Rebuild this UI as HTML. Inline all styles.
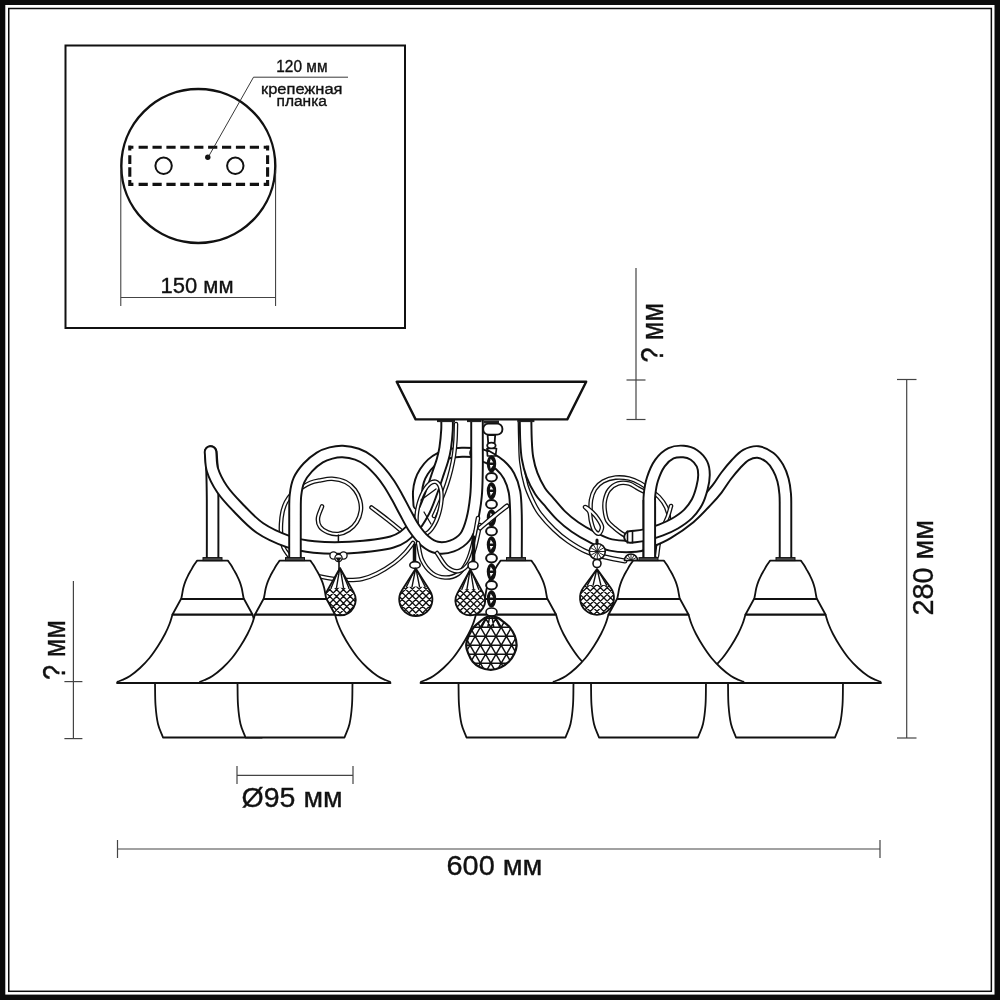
<!DOCTYPE html>
<html><head><meta charset="utf-8">
<style>
html,body{margin:0;padding:0;background:#fff;}
body{width:1000px;height:1000px;overflow:hidden;}
svg{display:block;filter:grayscale(1);}
text{font-family:"Liberation Sans",sans-serif;fill:#111;stroke:#111;stroke-width:0.35px;}
</style></head>
<body>
<svg width="1000" height="1000" viewBox="0 0 1000 1000">
<rect x="0" y="0" width="1000" height="1000" fill="#0a0a0a"/>
<rect x="5.3" y="5" width="989.2" height="989.6" fill="#fff"/>
<rect x="8.75" y="8.5" width="982.6" height="982.8" fill="none" stroke="#0a0a0a" stroke-width="1.5"/>
<rect x="65.5" y="45.5" width="339.5" height="282.5" fill="none" stroke="#111" stroke-width="2"/>
<circle cx="198.3" cy="166" r="77" fill="none" stroke="#111" stroke-width="2.4"/>
<path d="M128.2,147.2 H133.4 M138.6,147.2 H147.8 M152.5,147.2 H161.7 M166.4,147.2 H175.6 M180.3,147.2 H189.5 M194.2,147.2 H203.4 M208.1,147.2 H217.3 M222.0,147.2 H231.2 M235.9,147.2 H245.1 M249.8,147.2 H259.0 M263.7,147.2 H269.2 M128.2,184.4 H133.4 M138.6,184.4 H147.8 M152.5,184.4 H161.7 M166.4,184.4 H175.6 M180.3,184.4 H189.5 M194.2,184.4 H203.4 M208.1,184.4 H217.3 M222.0,184.4 H231.2 M235.9,184.4 H245.1 M249.8,184.4 H259.0 M263.7,184.4 H269.2 M129.8,145.6 V150.4 M129.8,155.2 V164.0 M129.8,167.2 V176.8 M129.8,180.0 V186.0 M267.6,145.6 V150.4 M267.6,155.2 V164.0 M267.6,167.2 V176.8 M267.6,180.0 V186.0" fill="none" stroke="#111" stroke-width="3.1"/>
<circle cx="163.6" cy="165.8" r="8.2" fill="none" stroke="#111" stroke-width="2"/>
<circle cx="235.3" cy="165.8" r="8.2" fill="none" stroke="#111" stroke-width="2"/>
<circle cx="207.8" cy="157.3" r="2.7" fill="#111"/>
<polyline points="208,157.5 253.5,77.2 348,77.2" fill="none" stroke="#222" stroke-width="0.9"/>
<text x="276.3" y="71.8" font-size="15.6" textLength="51.2" lengthAdjust="spacingAndGlyphs">120 мм</text>
<text x="261" y="94.2" font-size="15.4" textLength="81.5" lengthAdjust="spacingAndGlyphs">крепежная</text>
<text x="276.5" y="106.2" font-size="15.4" textLength="50.5" lengthAdjust="spacingAndGlyphs">планка</text>
<line x1="120.8" y1="170" x2="120.8" y2="306" stroke="#333" stroke-width="1"/>
<line x1="275.6" y1="170" x2="275.6" y2="306" stroke="#333" stroke-width="1"/>
<line x1="120.8" y1="297.5" x2="275.6" y2="297.5" stroke="#444" stroke-width="1.2"/>
<text x="160.6" y="292.8" font-size="22.3" textLength="73" lengthAdjust="spacingAndGlyphs">150 мм</text>
<g stroke="#444" stroke-width="1.2" fill="none">
<line x1="636" y1="268" x2="636" y2="419.5"/>
<line x1="626.5" y1="380" x2="645.5" y2="380"/>
<line x1="626.5" y1="419.5" x2="645.5" y2="419.5"/>
<line x1="73.4" y1="581" x2="73.4" y2="738.6"/>
<line x1="64.4" y1="681.6" x2="82.4" y2="681.6"/>
<line x1="64.4" y1="738.6" x2="82.4" y2="738.6"/>
<line x1="906.7" y1="379.5" x2="906.7" y2="738"/>
<line x1="897" y1="379.5" x2="916.5" y2="379.5"/>
<line x1="897" y1="738" x2="916.5" y2="738"/>
<line x1="237" y1="775.3" x2="353" y2="775.3"/>
<line x1="237" y1="766" x2="237" y2="784"/>
<line x1="353" y1="766" x2="353" y2="784"/>
<line x1="117.5" y1="849" x2="880" y2="849"/>
<line x1="117.5" y1="840" x2="117.5" y2="858"/>
<line x1="880" y1="840" x2="880" y2="858"/>
</g>
<text x="241.6" y="806.8" font-size="27.5" textLength="101" lengthAdjust="spacingAndGlyphs">Ø95 мм</text>
<text x="446.5" y="874.8" font-size="27.5" textLength="96" lengthAdjust="spacingAndGlyphs">600 мм</text>
<text transform="translate(933.2,615.6) rotate(-90)" font-size="29.3" textLength="95.6" lengthAdjust="spacingAndGlyphs">280 мм</text>
<text transform="translate(662.6,362.6) rotate(-90)" font-size="31" textLength="59.5" lengthAdjust="spacingAndGlyphs">? мм</text>
<text transform="translate(64.8,680) rotate(-90)" font-size="31" textLength="60" lengthAdjust="spacingAndGlyphs">? мм</text>
<path d="M322,506.4 C320.67,510.27 318.33,514.6 318,518 C317.67,521.4 318.33,524.4 320,526.8 C321.67,529.2 324.93,531.2 328,532.4 C331.07,533.6 334.93,534.4 338.4,534 C341.87,533.6 345.73,532 348.8,530 C351.87,528 354.8,525.2 356.8,522 C358.8,518.8 360.27,514.4 360.8,510.8 C361.33,507.2 360.97,503.87 360,500.4 C359.03,496.93 357.4,493.07 355,490 C352.6,486.93 349.43,483.87 345.6,482 C341.77,480.13 336.27,479.07 332,478.8 C327.73,478.53 323.6,479.73 320,480.4 C316.4,481.07 313.57,481.53 310.4,482.8 C307.23,484.07 304.07,486.13 301,488 C297.93,489.87 294.5,491.67 292,494 C289.5,496.33 287.58,499 286,502 C284.42,505 283.33,508.33 282.5,512 C281.67,515.67 281.2,519.83 281,524 C280.8,528.17 280.88,533.08 281.3,537 C281.72,540.92 282.22,544.33 283.5,547.5 C284.78,550.67 287.17,553.17 289,556" fill="none" stroke="#111" stroke-width="4.6" stroke-linecap="round" stroke-linejoin="round"/><path d="M322,506.4 C320.67,510.27 318.33,514.6 318,518 C317.67,521.4 318.33,524.4 320,526.8 C321.67,529.2 324.93,531.2 328,532.4 C331.07,533.6 334.93,534.4 338.4,534 C341.87,533.6 345.73,532 348.8,530 C351.87,528 354.8,525.2 356.8,522 C358.8,518.8 360.27,514.4 360.8,510.8 C361.33,507.2 360.97,503.87 360,500.4 C359.03,496.93 357.4,493.07 355,490 C352.6,486.93 349.43,483.87 345.6,482 C341.77,480.13 336.27,479.07 332,478.8 C327.73,478.53 323.6,479.73 320,480.4 C316.4,481.07 313.57,481.53 310.4,482.8 C307.23,484.07 304.07,486.13 301,488 C297.93,489.87 294.5,491.67 292,494 C289.5,496.33 287.58,499 286,502 C284.42,505 283.33,508.33 282.5,512 C281.67,515.67 281.2,519.83 281,524 C280.8,528.17 280.88,533.08 281.3,537 C281.72,540.92 282.22,544.33 283.5,547.5 C284.78,550.67 287.17,553.17 289,556" fill="none" stroke="#fff" stroke-width="2" stroke-linecap="round" stroke-linejoin="round"/>
<path d="M338.4,535 L338.4,542" fill="none" stroke="#111" stroke-width="1.5" stroke-linecap="round" stroke-linejoin="round"/>
<path d="M296,568 C299.33,569.67 302,571.58 306,573 C310,574.42 315.33,575.5 320,576.5 C324.67,577.5 329.33,578.42 334,579 C338.67,579.58 343.33,580 348,580 C352.67,580 357.17,580.08 362,579 C366.83,577.92 371.67,576.17 377,573.5 C382.33,570.83 389.33,566.42 394,563 C398.67,559.58 401.83,556.33 405,553 C408.17,549.67 410.33,546.33 413,543" fill="none" stroke="#111" stroke-width="4.6" stroke-linecap="round" stroke-linejoin="round"/><path d="M296,568 C299.33,569.67 302,571.58 306,573 C310,574.42 315.33,575.5 320,576.5 C324.67,577.5 329.33,578.42 334,579 C338.67,579.58 343.33,580 348,580 C352.67,580 357.17,580.08 362,579 C366.83,577.92 371.67,576.17 377,573.5 C382.33,570.83 389.33,566.42 394,563 C398.67,559.58 401.83,556.33 405,553 C408.17,549.67 410.33,546.33 413,543" fill="none" stroke="#fff" stroke-width="2" stroke-linecap="round" stroke-linejoin="round"/>
<path d="M371.5,507.5 C377,511.67 382.42,515.58 388,520 C393.58,524.42 399.33,529.33 405,534" fill="none" stroke="#111" stroke-width="4.6" stroke-linecap="round" stroke-linejoin="round"/><path d="M371.5,507.5 C377,511.67 382.42,515.58 388,520 C393.58,524.42 399.33,529.33 405,534" fill="none" stroke="#fff" stroke-width="2" stroke-linecap="round" stroke-linejoin="round"/>
<path d="M590.5,514 C590.67,509.33 590.25,504.17 591,500 C591.75,495.83 593,492.08 595,489 C597,485.92 599.58,483.4 603,481.5 C606.42,479.6 611.17,478.1 615.5,477.6 C619.83,477.1 624.92,477.6 629,478.5 C633.08,479.4 636.5,481.08 640,483 C643.5,484.92 646.83,487.67 650,490 C653.17,492.33 656.33,494.17 659,497 C661.67,499.83 664.33,503.33 666,507 C667.67,510.67 669,515.17 669,519 C669,522.83 667,526.33 666,530" fill="none" stroke="#111" stroke-width="4.6" stroke-linecap="round" stroke-linejoin="round"/><path d="M590.5,514 C590.67,509.33 590.25,504.17 591,500 C591.75,495.83 593,492.08 595,489 C597,485.92 599.58,483.4 603,481.5 C606.42,479.6 611.17,478.1 615.5,477.6 C619.83,477.1 624.92,477.6 629,478.5 C633.08,479.4 636.5,481.08 640,483 C643.5,484.92 646.83,487.67 650,490 C653.17,492.33 656.33,494.17 659,497 C661.67,499.83 664.33,503.33 666,507 C667.67,510.67 669,515.17 669,519 C669,522.83 667,526.33 666,530" fill="none" stroke="#fff" stroke-width="2" stroke-linecap="round" stroke-linejoin="round"/>
<path d="M646,492.5 C643.33,491.13 640.83,489.9 638,488.4 C635.17,486.9 632.33,484.32 629,483.5 C625.67,482.68 621.33,482.42 618,483.5 C614.67,484.58 611.17,487.25 609,490 C606.83,492.75 605.72,496.67 605,500 C604.28,503.33 604.3,506.53 604.7,510 C605.1,513.47 605.75,517.8 607.4,520.8 C609.05,523.8 612.33,525.97 614.6,528 C616.87,530.03 618.93,531.58 621,533 C623.07,534.42 625,535.33 627,536.5" fill="none" stroke="#111" stroke-width="4.6" stroke-linecap="round" stroke-linejoin="round"/><path d="M646,492.5 C643.33,491.13 640.83,489.9 638,488.4 C635.17,486.9 632.33,484.32 629,483.5 C625.67,482.68 621.33,482.42 618,483.5 C614.67,484.58 611.17,487.25 609,490 C606.83,492.75 605.72,496.67 605,500 C604.28,503.33 604.3,506.53 604.7,510 C605.1,513.47 605.75,517.8 607.4,520.8 C609.05,523.8 612.33,525.97 614.6,528 C616.87,530.03 618.93,531.58 621,533 C623.07,534.42 625,535.33 627,536.5" fill="none" stroke="#fff" stroke-width="2" stroke-linecap="round" stroke-linejoin="round"/>
<path d="M671,506 C670,509.33 669.33,512.33 668,516 C666.67,519.67 664.5,523.67 663,528 C661.5,532.33 660,537.33 659,542 C658,546.67 657.67,551.33 657,556" fill="none" stroke="#111" stroke-width="4.6" stroke-linecap="round" stroke-linejoin="round"/><path d="M671,506 C670,509.33 669.33,512.33 668,516 C666.67,519.67 664.5,523.67 663,528 C661.5,532.33 660,537.33 659,542 C658,546.67 657.67,551.33 657,556" fill="none" stroke="#fff" stroke-width="2" stroke-linecap="round" stroke-linejoin="round"/>
<path d="M479,452.6 C473.33,452.5 466.83,452.15 462,452.3 C457.17,452.45 453.67,452.72 450,453.5 C446.33,454.28 443.17,455.42 440,457 C436.83,458.58 433.67,460.58 431,463 C428.33,465.42 425.92,468.5 424,471.5 C422.08,474.5 420.58,477.58 419.5,481 C418.42,484.42 417.75,488 417.5,492 C417.25,496 417.83,500.67 418,505" fill="none" stroke="#111" stroke-width="11" stroke-linecap="round" stroke-linejoin="round"/><path d="M479,452.6 C473.33,452.5 466.83,452.15 462,452.3 C457.17,452.45 453.67,452.72 450,453.5 C446.33,454.28 443.17,455.42 440,457 C436.83,458.58 433.67,460.58 431,463 C428.33,465.42 425.92,468.5 424,471.5 C422.08,474.5 420.58,477.58 419.5,481 C418.42,484.42 417.75,488 417.5,492 C417.25,496 417.83,500.67 418,505" fill="none" stroke="#fff" stroke-width="7.1" stroke-linecap="round" stroke-linejoin="round"/>
<path d="M516,559 C516,544.33 516.25,526.17 516,515 C515.75,503.83 515.67,498.5 514.5,492 C513.33,485.5 511.42,480.5 509,476 C506.58,471.5 503.33,468 500,465 C496.67,462 493,460 489,458 C485,456 480.33,454.67 476,453" fill="none" stroke="#111" stroke-width="13.5" stroke-linecap="round" stroke-linejoin="round"/><path d="M516,559 C516,544.33 516.25,526.17 516,515 C515.75,503.83 515.67,498.5 514.5,492 C513.33,485.5 511.42,480.5 509,476 C506.58,471.5 503.33,468 500,465 C496.67,462 493,460 489,458 C485,456 480.33,454.67 476,453" fill="none" stroke="#fff" stroke-width="9.6" stroke-linecap="round" stroke-linejoin="round"/>
<path d="M456,424 C455.83,429.33 455.83,434.83 455.5,440 C455.17,445.17 454.75,450 454,455 C453.25,460 452.17,465.17 451,470 C449.83,474.83 448.67,479 447,484 C445.33,489 443.17,494.67 441,500 C438.83,505.33 436.33,510.67 434,516" fill="none" stroke="#111" stroke-width="4.6" stroke-linecap="round" stroke-linejoin="round"/><path d="M456,424 C455.83,429.33 455.83,434.83 455.5,440 C455.17,445.17 454.75,450 454,455 C453.25,460 452.17,465.17 451,470 C449.83,474.83 448.67,479 447,484 C445.33,489 443.17,494.67 441,500 C438.83,505.33 436.33,510.67 434,516" fill="none" stroke="#fff" stroke-width="2" stroke-linecap="round" stroke-linejoin="round"/>
<path d="M212.6,559 C212.6,539.33 212.7,514.83 212.6,500 C212.5,485.17 212.3,478 212,470 C211.7,462 211.2,458 210.8,452" fill="none" stroke="#111" stroke-width="13.5" stroke-linecap="round" stroke-linejoin="round"/><path d="M212.6,559 C212.6,539.33 212.7,514.83 212.6,500 C212.5,485.17 212.3,478 212,470 C211.7,462 211.2,458 210.8,452" fill="none" stroke="#fff" stroke-width="9.6" stroke-linecap="round" stroke-linejoin="round"/>
<path d="M210.5,452 C211.17,458 210.58,463.83 212.5,470 C214.42,476.17 217.83,482.83 222,489 C226.17,495.17 231.17,500.5 237.5,507 C243.83,513.5 251.58,522.25 260,528 C268.42,533.75 279,538.33 288,541.5 C297,544.67 303.67,546 314,547 C324.33,548 337,548.33 350,547.5 C363,546.67 381.67,545.08 392,542 C402.33,538.92 406.67,534.17 412,529 C417.33,523.83 420.67,517.33 424,511 C427.33,504.67 429.58,497.5 432,491 C434.42,484.5 436.75,477.17 438.5,472 C440.25,466.83 441.38,464 442.5,460 C443.62,456 444.45,453 445.2,448 C445.95,443 446.7,435.33 447,430 C447.3,424.67 447,420.67 447,416" fill="none" stroke="#111" stroke-width="13.5" stroke-linecap="round" stroke-linejoin="round"/><path d="M210.5,452 C211.17,458 210.58,463.83 212.5,470 C214.42,476.17 217.83,482.83 222,489 C226.17,495.17 231.17,500.5 237.5,507 C243.83,513.5 251.58,522.25 260,528 C268.42,533.75 279,538.33 288,541.5 C297,544.67 303.67,546 314,547 C324.33,548 337,548.33 350,547.5 C363,546.67 381.67,545.08 392,542 C402.33,538.92 406.67,534.17 412,529 C417.33,523.83 420.67,517.33 424,511 C427.33,504.67 429.58,497.5 432,491 C434.42,484.5 436.75,477.17 438.5,472 C440.25,466.83 441.38,464 442.5,460 C443.62,456 444.45,453 445.2,448 C445.95,443 446.7,435.33 447,430 C447.3,424.67 447,420.67 447,416" fill="none" stroke="#fff" stroke-width="9.6" stroke-linecap="round" stroke-linejoin="round"/>
<path d="M439.67,510.66 C439.11,512.92 438.4,515.23 437.62,517.35 C436.84,519.47 435.93,521.56 434.98,523.4 C434.03,525.25 432.98,526.97 431.93,528.41 C430.88,529.84 429.76,531.09 428.68,532.02 C427.6,532.95 426.49,533.63 425.45,533.99 C424.42,534.36 423.39,534.43 422.47,534.2 C421.55,533.97 420.67,533.42 419.93,532.62 C419.18,531.81 418.52,530.69 418.01,529.36 C417.49,528.03 417.09,526.4 416.83,524.64 C416.58,522.88 416.46,520.87 416.49,518.79 C416.52,516.72 416.69,514.45 417,512.21 C417.31,509.97 417.76,507.6 418.33,505.34 C418.89,503.08 419.6,500.77 420.38,498.65 C421.16,496.53 422.07,494.44 423.02,492.6 C423.97,490.75 425.02,489.03 426.07,487.59 C427.12,486.16 428.24,484.91 429.32,483.98 C430.4,483.05 431.51,482.37 432.55,482.01 C433.58,481.64 434.61,481.57 435.53,481.8 C436.45,482.03 437.33,482.58 438.07,483.38 C438.82,484.19 439.48,485.31 439.99,486.64 C440.51,487.97 440.91,489.6 441.17,491.36 C441.42,493.12 441.54,495.13 441.51,497.21 C441.48,499.28 441.31,501.55 441,503.79 C440.69,506.03 440.24,508.4 439.67,510.66 Z" fill="none" stroke="#111" stroke-width="4.6"/><path d="M439.67,510.66 C439.11,512.92 438.4,515.23 437.62,517.35 C436.84,519.47 435.93,521.56 434.98,523.4 C434.03,525.25 432.98,526.97 431.93,528.41 C430.88,529.84 429.76,531.09 428.68,532.02 C427.6,532.95 426.49,533.63 425.45,533.99 C424.42,534.36 423.39,534.43 422.47,534.2 C421.55,533.97 420.67,533.42 419.93,532.62 C419.18,531.81 418.52,530.69 418.01,529.36 C417.49,528.03 417.09,526.4 416.83,524.64 C416.58,522.88 416.46,520.87 416.49,518.79 C416.52,516.72 416.69,514.45 417,512.21 C417.31,509.97 417.76,507.6 418.33,505.34 C418.89,503.08 419.6,500.77 420.38,498.65 C421.16,496.53 422.07,494.44 423.02,492.6 C423.97,490.75 425.02,489.03 426.07,487.59 C427.12,486.16 428.24,484.91 429.32,483.98 C430.4,483.05 431.51,482.37 432.55,482.01 C433.58,481.64 434.61,481.57 435.53,481.8 C436.45,482.03 437.33,482.58 438.07,483.38 C438.82,484.19 439.48,485.31 439.99,486.64 C440.51,487.97 440.91,489.6 441.17,491.36 C441.42,493.12 441.54,495.13 441.51,497.21 C441.48,499.28 441.31,501.55 441,503.79 C440.69,506.03 440.24,508.4 439.67,510.66 Z" fill="none" stroke="#fff" stroke-width="2"/>
<path d="M421,500 L436,489" fill="none" stroke="#111" stroke-width="1.3" stroke-linecap="round" stroke-linejoin="round"/>
<path d="M424,512 L431,524" fill="none" stroke="#111" stroke-width="1.3" stroke-linecap="round" stroke-linejoin="round"/>
<path d="M295,559 C295,544.33 294.92,525.67 295,515 C295.08,504.33 294.83,500.83 295.5,495 C296.17,489.17 296.95,484.6 299,480 C301.05,475.4 304.33,471.15 307.8,467.4 C311.27,463.65 315.93,459.9 319.8,457.5 C323.67,455.1 327.2,454 331,453 C334.8,452 338.27,451.3 342.6,451.5 C346.93,451.7 352.6,452.65 357,454.2 C361.4,455.75 365.17,457.9 369,460.8 C372.83,463.7 376.67,467.82 380,471.6 C383.33,475.38 386.17,479.27 389,483.5 C391.83,487.73 394.33,492.25 397,497 C399.67,501.75 402.17,506.83 405,512 C407.83,517.17 410.67,523.17 414,528 C417.33,532.83 421.17,537.75 425,541 C428.83,544.25 432.5,546.67 437,547.5 C441.5,548.33 447.33,547.75 452,546 C456.67,544.25 461.67,541.33 465,537 C468.33,532.67 470.17,526.83 472,520 C473.83,513.17 475.17,504.33 476,496 C476.83,487.67 476.83,478.5 477,470 C477.17,461.5 477,454 477,445 C477,436 477,425.67 477,416" fill="none" stroke="#111" stroke-width="13.5" stroke-linecap="round" stroke-linejoin="round"/><path d="M295,559 C295,544.33 294.92,525.67 295,515 C295.08,504.33 294.83,500.83 295.5,495 C296.17,489.17 296.95,484.6 299,480 C301.05,475.4 304.33,471.15 307.8,467.4 C311.27,463.65 315.93,459.9 319.8,457.5 C323.67,455.1 327.2,454 331,453 C334.8,452 338.27,451.3 342.6,451.5 C346.93,451.7 352.6,452.65 357,454.2 C361.4,455.75 365.17,457.9 369,460.8 C372.83,463.7 376.67,467.82 380,471.6 C383.33,475.38 386.17,479.27 389,483.5 C391.83,487.73 394.33,492.25 397,497 C399.67,501.75 402.17,506.83 405,512 C407.83,517.17 410.67,523.17 414,528 C417.33,532.83 421.17,537.75 425,541 C428.83,544.25 432.5,546.67 437,547.5 C441.5,548.33 447.33,547.75 452,546 C456.67,544.25 461.67,541.33 465,537 C468.33,532.67 470.17,526.83 472,520 C473.83,513.17 475.17,504.33 476,496 C476.83,487.67 476.83,478.5 477,470 C477.17,461.5 477,454 477,445 C477,436 477,425.67 477,416" fill="none" stroke="#fff" stroke-width="9.6" stroke-linecap="round" stroke-linejoin="round"/>
<path d="M418,543 C419.33,548.67 419.67,555 422,560 C424.33,565 428.17,570.08 432,573 C435.83,575.92 440.67,577.33 445,577.5 C449.33,577.67 454.33,576.58 458,574 C461.67,571.42 464.5,567 467,562 C469.5,557 471.17,551.33 473,544 C474.83,536.67 476.33,526.67 478,518" fill="none" stroke="#111" stroke-width="4.6" stroke-linecap="round" stroke-linejoin="round"/><path d="M418,543 C419.33,548.67 419.67,555 422,560 C424.33,565 428.17,570.08 432,573 C435.83,575.92 440.67,577.33 445,577.5 C449.33,577.67 454.33,576.58 458,574 C461.67,571.42 464.5,567 467,562 C469.5,557 471.17,551.33 473,544 C474.83,536.67 476.33,526.67 478,518" fill="none" stroke="#fff" stroke-width="2" stroke-linecap="round" stroke-linejoin="round"/>
<path d="M437,553 C440.33,557.67 443.33,564 447,567 C450.67,570 455.33,571.67 459,571 C462.67,570.33 466.33,567 469,563 C471.67,559 473.17,553.33 475,547 C476.83,540.67 478.33,532.33 480,525" fill="none" stroke="#111" stroke-width="4.6" stroke-linecap="round" stroke-linejoin="round"/><path d="M437,553 C440.33,557.67 443.33,564 447,567 C450.67,570 455.33,571.67 459,571 C462.67,570.33 466.33,567 469,563 C471.67,559 473.17,553.33 475,547 C476.83,540.67 478.33,532.33 480,525" fill="none" stroke="#fff" stroke-width="2" stroke-linecap="round" stroke-linejoin="round"/>
<path d="M520,416 C520.17,424 520.25,432.33 520.5,440 C520.75,447.67 520.58,454.5 521.5,462 C522.42,469.5 524.08,478.33 526,485 C527.92,491.67 530.67,497.17 533,502 C535.33,506.83 536.5,509.42 540,514 C543.5,518.58 549.33,525 554,529.5 C558.67,534 562.67,537.33 568,541 C573.33,544.67 579.83,548.83 586,551.5 C592.17,554.17 598.5,555.42 605,557 C611.5,558.58 618.33,559.67 625,561" fill="none" stroke="#111" stroke-width="5" stroke-linecap="round" stroke-linejoin="round"/><path d="M520,416 C520.17,424 520.25,432.33 520.5,440 C520.75,447.67 520.58,454.5 521.5,462 C522.42,469.5 524.08,478.33 526,485 C527.92,491.67 530.67,497.17 533,502 C535.33,506.83 536.5,509.42 540,514 C543.5,518.58 549.33,525 554,529.5 C558.67,534 562.67,537.33 568,541 C573.33,544.67 579.83,548.83 586,551.5 C592.17,554.17 598.5,555.42 605,557 C611.5,558.58 618.33,559.67 625,561" fill="none" stroke="#fff" stroke-width="2.4" stroke-linecap="round" stroke-linejoin="round"/>
<path d="M785.5,559 C785.5,542.67 785.55,520.83 785.5,510 C785.45,499.17 785.62,499 785.2,494 C784.78,489 784.2,484.42 783,480 C781.8,475.58 780.17,471.25 778,467.5 C775.83,463.75 773.33,460.08 770,457.5 C766.67,454.92 762,452.42 758,452 C754,451.58 749.67,453 746,455 C742.33,457 739.33,460.5 736,464 C732.67,467.5 729.17,471.83 726,476 C722.83,480.17 720.12,484.98 717,489 C713.88,493.02 711.85,495.32 707.3,500.1 C702.75,504.88 696.3,512.2 689.7,517.7 C683.1,523.2 674.32,529.13 667.7,533.1 C661.08,537.07 655.28,539.35 650,541.5 C644.72,543.65 642.5,545.42 636,546 C629.5,546.58 618.33,546.5 611,545 C603.67,543.5 598,540 592,537 C586,534 580.17,530.58 575,527 C569.83,523.42 565.5,519.88 561,515.5 C556.5,511.12 551.5,504.78 548,500.7 C544.5,496.62 542.67,495.28 540,491 C537.33,486.72 534.08,480.5 532,475 C529.92,469.5 528.5,463.83 527.5,458 C526.5,452.17 526.33,447 526,440 C525.67,433 525.67,424 525.5,416" fill="none" stroke="#111" stroke-width="13.5" stroke-linecap="round" stroke-linejoin="round"/><path d="M785.5,559 C785.5,542.67 785.55,520.83 785.5,510 C785.45,499.17 785.62,499 785.2,494 C784.78,489 784.2,484.42 783,480 C781.8,475.58 780.17,471.25 778,467.5 C775.83,463.75 773.33,460.08 770,457.5 C766.67,454.92 762,452.42 758,452 C754,451.58 749.67,453 746,455 C742.33,457 739.33,460.5 736,464 C732.67,467.5 729.17,471.83 726,476 C722.83,480.17 720.12,484.98 717,489 C713.88,493.02 711.85,495.32 707.3,500.1 C702.75,504.88 696.3,512.2 689.7,517.7 C683.1,523.2 674.32,529.13 667.7,533.1 C661.08,537.07 655.28,539.35 650,541.5 C644.72,543.65 642.5,545.42 636,546 C629.5,546.58 618.33,546.5 611,545 C603.67,543.5 598,540 592,537 C586,534 580.17,530.58 575,527 C569.83,523.42 565.5,519.88 561,515.5 C556.5,511.12 551.5,504.78 548,500.7 C544.5,496.62 542.67,495.28 540,491 C537.33,486.72 534.08,480.5 532,475 C529.92,469.5 528.5,463.83 527.5,458 C526.5,452.17 526.33,447 526,440 C525.67,433 525.67,424 525.5,416" fill="none" stroke="#fff" stroke-width="9.6" stroke-linecap="round" stroke-linejoin="round"/>
<path d="M649.3,559 C649.3,542.67 649.27,520.67 649.3,510 C649.33,499.33 648.97,500.17 649.5,495 C650.03,489.83 650.75,484.33 652.5,479 C654.25,473.67 656.92,467.28 660,463 C663.08,458.72 667.08,455.22 671,453.3 C674.92,451.38 679.67,451.22 683.5,451.5 C687.33,451.78 690.92,452.92 694,455 C697.08,457.08 700.33,460.67 702,464 C703.67,467.33 704,471 704,475 C704,479 703.17,483.5 702,488 C700.83,492.5 699.33,497.67 697,502 C694.67,506.33 691.67,510.42 688,514 C684.33,517.58 679.5,520.83 675,523.5 C670.5,526.17 666,528.08 661,530 C656,531.92 650.17,533.83 645,535 C639.83,536.17 635,536.33 630,537" fill="none" stroke="#111" stroke-width="13.5" stroke-linecap="round" stroke-linejoin="round"/><path d="M649.3,559 C649.3,542.67 649.27,520.67 649.3,510 C649.33,499.33 648.97,500.17 649.5,495 C650.03,489.83 650.75,484.33 652.5,479 C654.25,473.67 656.92,467.28 660,463 C663.08,458.72 667.08,455.22 671,453.3 C674.92,451.38 679.67,451.22 683.5,451.5 C687.33,451.78 690.92,452.92 694,455 C697.08,457.08 700.33,460.67 702,464 C703.67,467.33 704,471 704,475 C704,479 703.17,483.5 702,488 C700.83,492.5 699.33,497.67 697,502 C694.67,506.33 691.67,510.42 688,514 C684.33,517.58 679.5,520.83 675,523.5 C670.5,526.17 666,528.08 661,530 C656,531.92 650.17,533.83 645,535 C639.83,536.17 635,536.33 630,537" fill="none" stroke="#fff" stroke-width="9.6" stroke-linecap="round" stroke-linejoin="round"/>
<path d="M627.5,530.5 L627.5,543.5 M632.5,530.5 L632.5,543.5" stroke="#111" stroke-width="1.6"/>
<path d="M585,507 C585.42,507 589.83,510 592,512 C594.17,514 596.33,516.5 598,519 C599.67,521.5 601.83,524.58 602,527 C602.17,529.42 600.33,533 599,533.5 C597.67,534 595.33,532.08 594,530 C592.67,527.92 591.75,524 591,521 C590.25,518 590.5,514.33 589.5,512 C588.5,509.67 584.58,507 585,507 Z" fill="none" stroke="#111" stroke-width="4.6"/><path d="M585,507 C585.42,507 589.83,510 592,512 C594.17,514 596.33,516.5 598,519 C599.67,521.5 601.83,524.58 602,527 C602.17,529.42 600.33,533 599,533.5 C597.67,534 595.33,532.08 594,530 C592.67,527.92 591.75,524 591,521 C590.25,518 590.5,514.33 589.5,512 C588.5,509.67 584.58,507 585,507 Z" fill="none" stroke="#fff" stroke-width="2"/>
<path d="M649.3,500 L649.3,559" fill="none" stroke="#111" stroke-width="13.5" stroke-linecap="butt" stroke-linejoin="round"/><path d="M649.3,500 L649.3,559" fill="none" stroke="#fff" stroke-width="9.6" stroke-linecap="butt" stroke-linejoin="round"/>
<rect x="437" y="419.3" width="18" height="2.8" fill="#222"/>
<rect x="467" y="419.3" width="14.5" height="2.8" fill="#222"/>
<rect x="517.4" y="419.3" width="17" height="2.8" fill="#222"/>
<path d="M396.7,381.8 L586.2,381.8 L567.3,419.4 L415.6,419.4 Z" fill="#fff" stroke="#111" stroke-width="2.4" stroke-linejoin="round"/>
<path d="M624.5,560.5 A6.5,6.5 0 0 1 637.5,560.5 Z" fill="#fff" stroke="#111" stroke-width="1.5"/><path d="M631,560.5 L624.5,560.5 M631,560.5 L625.37,557.25 M631,560.5 L627.75,554.87 M631,560.5 L631,554 M631,560.5 L634.25,554.87 M631,560.5 L636.63,557.25 M631,560.5 L637.5,560.5" stroke="#111" stroke-width="0.9"/>
<circle cx="333.5" cy="555.5" r="3.6" fill="#fff" stroke="#111" stroke-width="1.3"/>
<circle cx="343.5" cy="555.5" r="3.6" fill="#fff" stroke="#111" stroke-width="1.3"/>
<circle cx="338.5" cy="558" r="3.6" fill="#fff" stroke="#111" stroke-width="1.3"/>
<path d="M335.5,557.5 L338.5,562.5 L341.5,557.5" fill="#111"/>
<path d="M339,562 L339,569" fill="none" stroke="#111" stroke-width="1.6" stroke-linecap="round" stroke-linejoin="round"/>
<clipPath id="dc1"><path d="M340,568 L326.41,592.15 A15.6,15.6 0 1 0 353.59,592.15 Z"/></clipPath>
<clipPath id="dd2"><path d="M322.4,590.13 Q340,585.45 357.6,590.13 L357.6,617.4 L322.4,617.4 Z"/></clipPath>
<path d="M340,568 L326.41,592.15 A15.6,15.6 0 1 0 353.59,592.15 Z" fill="#fff" stroke="none"/>
<g clip-path="url(#dc1)"><path d="M255.6,569.8 L315.6,629.8 M315.6,569.8 L255.6,629.8 M262.4,569.8 L322.4,629.8 M322.4,569.8 L262.4,629.8 M269.2,569.8 L329.2,629.8 M329.2,569.8 L269.2,629.8 M276,569.8 L336,629.8 M336,569.8 L276,629.8 M282.8,569.8 L342.8,629.8 M342.8,569.8 L282.8,629.8 M289.6,569.8 L349.6,629.8 M349.6,569.8 L289.6,629.8 M296.4,569.8 L356.4,629.8 M356.4,569.8 L296.4,629.8 M303.2,569.8 L363.2,629.8 M363.2,569.8 L303.2,629.8 M310,569.8 L370,629.8 M370,569.8 L310,629.8 M316.8,569.8 L376.8,629.8 M376.8,569.8 L316.8,629.8 M323.6,569.8 L383.6,629.8 M383.6,569.8 L323.6,629.8 M330.4,569.8 L390.4,629.8 M390.4,569.8 L330.4,629.8 M337.2,569.8 L397.2,629.8 M397.2,569.8 L337.2,629.8 M344,569.8 L404,629.8 M404,569.8 L344,629.8 M350.8,569.8 L410.8,629.8 M410.8,569.8 L350.8,629.8 M357.6,569.8 L417.6,629.8 M417.6,569.8 L357.6,629.8 M364.4,569.8 L424.4,629.8 M424.4,569.8 L364.4,629.8" clip-path="url(#dd2)" stroke="#111" stroke-width="1.35" fill="none"/></g>
<path d="M339.1,569 L330.87,588.57 M339.64,569 L336.35,588.57 M340.36,569 L343.65,588.57 M340.9,569 L349.13,588.57" clip-path="url(#dc1)" stroke="#111" stroke-width="1.4" fill="none"/>
<path d="M340,568 L326.41,592.15 A15.6,15.6 0 1 0 353.59,592.15 Z" fill="none" stroke="#111" stroke-width="1.8" stroke-linejoin="round"/>
<path d="M155,683 C155.17,690.33 155,698.17 155.5,705 C156,711.83 156.75,718.58 158,724 C159.25,729.42 161.33,733 163,737.5 L262,737.5 L262,737.5 C263.67,733 265.75,729.42 267,724 C268.25,718.58 269,711.83 269.5,705 C270,698.17 269.83,690.33 270,683 Z" fill="#fff" stroke="#111" stroke-width="1.8" stroke-linejoin="round"/>
<path d="M172.5,614.5 C171.5,617.67 170.75,620.75 169.5,624 C168.25,627.25 166.92,630.33 165,634 C163.08,637.67 160.58,642 158,646 C155.42,650 152.5,654.33 149.5,658 C146.5,661.67 143.25,665 140,668 C136.75,671 133,674 130,676 C127,678 124,679.07 122,680 C120,680.93 118.83,681.1 118,681.6 C117.17,682.1 117.33,682.53 117,683 L308,683 C307.67,682.53 307.83,682.1 307,681.6 C306.17,681.1 305,680.93 303,680 C301,679.07 298,678 295,676 C292,674 288.25,671 285,668 C281.75,665 278.5,661.67 275.5,658 C272.5,654.33 269.58,650 267,646 C264.42,642 261.92,637.67 260,634 C258.08,630.33 256.75,627.25 255.5,624 C254.25,620.75 253.5,617.67 252.5,614.5 Z" fill="#fff" stroke="#111" stroke-width="1.8" stroke-linejoin="round"/>
<path d="M181,599 L172.5,614.5 L252.5,614.5 L244,599 Z" fill="#fff" stroke="#111" stroke-width="1.8" stroke-linejoin="round"/>
<path d="M197.2,560.6 C196.13,562.07 195.05,563.37 194,565 C192.95,566.63 191.92,568.6 190.9,570.4 C189.88,572.2 188.83,573.93 187.9,575.8 C186.97,577.67 186.07,579.57 185.3,581.6 C184.53,583.63 183.85,585.77 183.3,588 C182.75,590.23 182.35,593.17 182,595 C181.65,596.83 181.47,597.67 181.2,599 L243.8,599 C243.53,597.67 243.35,596.83 243,595 C242.65,593.17 242.25,590.23 241.7,588 C241.15,585.77 240.47,583.63 239.7,581.6 C238.93,579.57 238.03,577.67 237.1,575.8 C236.17,573.93 235.12,572.2 234.1,570.4 C233.08,568.6 232.05,566.63 231,565 C229.95,563.37 228.87,562.07 227.8,560.6 Z" fill="#fff" stroke="#111" stroke-width="1.8" stroke-linejoin="round"/>
<rect x="203" y="557.6" width="19" height="3" fill="#444" stroke="#111" stroke-width="1"/>
<path d="M458.5,683 C458.67,690.33 458.5,698.17 459,705 C459.5,711.83 460.25,718.58 461.5,724 C462.75,729.42 464.83,733 466.5,737.5 L565.5,737.5 L565.5,737.5 C567.17,733 569.25,729.42 570.5,724 C571.75,718.58 572.5,711.83 573,705 C573.5,698.17 573.33,690.33 573.5,683 Z" fill="#fff" stroke="#111" stroke-width="1.8" stroke-linejoin="round"/>
<path d="M476,614.5 C475,617.67 474.25,620.75 473,624 C471.75,627.25 470.42,630.33 468.5,634 C466.58,637.67 464.08,642 461.5,646 C458.92,650 456,654.33 453,658 C450,661.67 446.75,665 443.5,668 C440.25,671 436.5,674 433.5,676 C430.5,678 427.5,679.07 425.5,680 C423.5,680.93 422.33,681.1 421.5,681.6 C420.67,682.1 420.83,682.53 420.5,683 L611.5,683 C611.17,682.53 611.33,682.1 610.5,681.6 C609.67,681.1 608.5,680.93 606.5,680 C604.5,679.07 601.5,678 598.5,676 C595.5,674 591.75,671 588.5,668 C585.25,665 582,661.67 579,658 C576,654.33 573.08,650 570.5,646 C567.92,642 565.42,637.67 563.5,634 C561.58,630.33 560.25,627.25 559,624 C557.75,620.75 557,617.67 556,614.5 Z" fill="#fff" stroke="#111" stroke-width="1.8" stroke-linejoin="round"/>
<path d="M484.5,599 L476,614.5 L556,614.5 L547.5,599 Z" fill="#fff" stroke="#111" stroke-width="1.8" stroke-linejoin="round"/>
<path d="M500.7,560.6 C499.63,562.07 498.55,563.37 497.5,565 C496.45,566.63 495.42,568.6 494.4,570.4 C493.38,572.2 492.33,573.93 491.4,575.8 C490.47,577.67 489.57,579.57 488.8,581.6 C488.03,583.63 487.35,585.77 486.8,588 C486.25,590.23 485.85,593.17 485.5,595 C485.15,596.83 484.97,597.67 484.7,599 L547.3,599 C547.03,597.67 546.85,596.83 546.5,595 C546.15,593.17 545.75,590.23 545.2,588 C544.65,585.77 543.97,583.63 543.2,581.6 C542.43,579.57 541.53,577.67 540.6,575.8 C539.67,573.93 538.62,572.2 537.6,570.4 C536.58,568.6 535.55,566.63 534.5,565 C533.45,563.37 532.37,562.07 531.3,560.6 Z" fill="#fff" stroke="#111" stroke-width="1.8" stroke-linejoin="round"/>
<rect x="506.5" y="557.6" width="19" height="3" fill="#444" stroke="#111" stroke-width="1"/>
<path d="M728,683 C728.17,690.33 728,698.17 728.5,705 C729,711.83 729.75,718.58 731,724 C732.25,729.42 734.33,733 736,737.5 L835,737.5 L835,737.5 C836.67,733 838.75,729.42 840,724 C841.25,718.58 842,711.83 842.5,705 C843,698.17 842.83,690.33 843,683 Z" fill="#fff" stroke="#111" stroke-width="1.8" stroke-linejoin="round"/>
<path d="M745.5,614.5 C744.5,617.67 743.75,620.75 742.5,624 C741.25,627.25 739.92,630.33 738,634 C736.08,637.67 733.58,642 731,646 C728.42,650 725.5,654.33 722.5,658 C719.5,661.67 716.25,665 713,668 C709.75,671 706,674 703,676 C700,678 697,679.07 695,680 C693,680.93 691.83,681.1 691,681.6 C690.17,682.1 690.33,682.53 690,683 L881,683 C880.67,682.53 880.83,682.1 880,681.6 C879.17,681.1 878,680.93 876,680 C874,679.07 871,678 868,676 C865,674 861.25,671 858,668 C854.75,665 851.5,661.67 848.5,658 C845.5,654.33 842.58,650 840,646 C837.42,642 834.92,637.67 833,634 C831.08,630.33 829.75,627.25 828.5,624 C827.25,620.75 826.5,617.67 825.5,614.5 Z" fill="#fff" stroke="#111" stroke-width="1.8" stroke-linejoin="round"/>
<path d="M754,599 L745.5,614.5 L825.5,614.5 L817,599 Z" fill="#fff" stroke="#111" stroke-width="1.8" stroke-linejoin="round"/>
<path d="M770.2,560.6 C769.13,562.07 768.05,563.37 767,565 C765.95,566.63 764.92,568.6 763.9,570.4 C762.88,572.2 761.83,573.93 760.9,575.8 C759.97,577.67 759.07,579.57 758.3,581.6 C757.53,583.63 756.85,585.77 756.3,588 C755.75,590.23 755.35,593.17 755,595 C754.65,596.83 754.47,597.67 754.2,599 L816.8,599 C816.53,597.67 816.35,596.83 816,595 C815.65,593.17 815.25,590.23 814.7,588 C814.15,585.77 813.47,583.63 812.7,581.6 C811.93,579.57 811.03,577.67 810.1,575.8 C809.17,573.93 808.12,572.2 807.1,570.4 C806.08,568.6 805.05,566.63 804,565 C802.95,563.37 801.87,562.07 800.8,560.6 Z" fill="#fff" stroke="#111" stroke-width="1.8" stroke-linejoin="round"/>
<rect x="776" y="557.6" width="19" height="3" fill="#444" stroke="#111" stroke-width="1"/>
<path d="M237.5,683 C237.67,690.33 237.5,698.17 238,705 C238.5,711.83 239.25,718.58 240.5,724 C241.75,729.42 243.83,733 245.5,737.5 L344.5,737.5 L344.5,737.5 C346.17,733 348.25,729.42 349.5,724 C350.75,718.58 351.5,711.83 352,705 C352.5,698.17 352.33,690.33 352.5,683 Z" fill="#fff" stroke="#111" stroke-width="1.8" stroke-linejoin="round"/>
<path d="M255,614.5 C254,617.67 253.25,620.75 252,624 C250.75,627.25 249.42,630.33 247.5,634 C245.58,637.67 243.08,642 240.5,646 C237.92,650 235,654.33 232,658 C229,661.67 225.75,665 222.5,668 C219.25,671 215.5,674 212.5,676 C209.5,678 206.5,679.07 204.5,680 C202.5,680.93 201.33,681.1 200.5,681.6 C199.67,682.1 199.83,682.53 199.5,683 L390.5,683 C390.17,682.53 390.33,682.1 389.5,681.6 C388.67,681.1 387.5,680.93 385.5,680 C383.5,679.07 380.5,678 377.5,676 C374.5,674 370.75,671 367.5,668 C364.25,665 361,661.67 358,658 C355,654.33 352.08,650 349.5,646 C346.92,642 344.42,637.67 342.5,634 C340.58,630.33 339.25,627.25 338,624 C336.75,620.75 336,617.67 335,614.5 Z" fill="#fff" stroke="#111" stroke-width="1.8" stroke-linejoin="round"/>
<path d="M263.5,599 L255,614.5 L335,614.5 L326.5,599 Z" fill="#fff" stroke="#111" stroke-width="1.8" stroke-linejoin="round"/>
<path d="M279.7,560.6 C278.63,562.07 277.55,563.37 276.5,565 C275.45,566.63 274.42,568.6 273.4,570.4 C272.38,572.2 271.33,573.93 270.4,575.8 C269.47,577.67 268.57,579.57 267.8,581.6 C267.03,583.63 266.35,585.77 265.8,588 C265.25,590.23 264.85,593.17 264.5,595 C264.15,596.83 263.97,597.67 263.7,599 L326.3,599 C326.03,597.67 325.85,596.83 325.5,595 C325.15,593.17 324.75,590.23 324.2,588 C323.65,585.77 322.97,583.63 322.2,581.6 C321.43,579.57 320.53,577.67 319.6,575.8 C318.67,573.93 317.62,572.2 316.6,570.4 C315.58,568.6 314.55,566.63 313.5,565 C312.45,563.37 311.37,562.07 310.3,560.6 Z" fill="#fff" stroke="#111" stroke-width="1.8" stroke-linejoin="round"/>
<rect x="285.5" y="557.6" width="19" height="3" fill="#444" stroke="#111" stroke-width="1"/>
<path d="M591,683 C591.17,690.33 591,698.17 591.5,705 C592,711.83 592.75,718.58 594,724 C595.25,729.42 597.33,733 599,737.5 L698,737.5 L698,737.5 C699.67,733 701.75,729.42 703,724 C704.25,718.58 705,711.83 705.5,705 C706,698.17 705.83,690.33 706,683 Z" fill="#fff" stroke="#111" stroke-width="1.8" stroke-linejoin="round"/>
<path d="M608.5,614.5 C607.5,617.67 606.75,620.75 605.5,624 C604.25,627.25 602.92,630.33 601,634 C599.08,637.67 596.58,642 594,646 C591.42,650 588.5,654.33 585.5,658 C582.5,661.67 579.25,665 576,668 C572.75,671 569,674 566,676 C563,678 560,679.07 558,680 C556,680.93 554.83,681.1 554,681.6 C553.17,682.1 553.33,682.53 553,683 L744,683 C743.67,682.53 743.83,682.1 743,681.6 C742.17,681.1 741,680.93 739,680 C737,679.07 734,678 731,676 C728,674 724.25,671 721,668 C717.75,665 714.5,661.67 711.5,658 C708.5,654.33 705.58,650 703,646 C700.42,642 697.92,637.67 696,634 C694.08,630.33 692.75,627.25 691.5,624 C690.25,620.75 689.5,617.67 688.5,614.5 Z" fill="#fff" stroke="#111" stroke-width="1.8" stroke-linejoin="round"/>
<path d="M617,599 L608.5,614.5 L688.5,614.5 L680,599 Z" fill="#fff" stroke="#111" stroke-width="1.8" stroke-linejoin="round"/>
<path d="M633.2,560.6 C632.13,562.07 631.05,563.37 630,565 C628.95,566.63 627.92,568.6 626.9,570.4 C625.88,572.2 624.83,573.93 623.9,575.8 C622.97,577.67 622.07,579.57 621.3,581.6 C620.53,583.63 619.85,585.77 619.3,588 C618.75,590.23 618.35,593.17 618,595 C617.65,596.83 617.47,597.67 617.2,599 L679.8,599 C679.53,597.67 679.35,596.83 679,595 C678.65,593.17 678.25,590.23 677.7,588 C677.15,585.77 676.47,583.63 675.7,581.6 C674.93,579.57 674.03,577.67 673.1,575.8 C672.17,573.93 671.12,572.2 670.1,570.4 C669.08,568.6 668.05,566.63 667,565 C665.95,563.37 664.87,562.07 663.8,560.6 Z" fill="#fff" stroke="#111" stroke-width="1.8" stroke-linejoin="round"/>
<rect x="639" y="557.6" width="19" height="3" fill="#444" stroke="#111" stroke-width="1"/>
<path d="M414.5,545 L414.5,562" fill="none" stroke="#111" stroke-width="3.5" stroke-linecap="round" stroke-linejoin="round"/>
<ellipse cx="415" cy="565" rx="5.2" ry="3.4" fill="#fff" stroke="#111" stroke-width="1.6"/>
<clipPath id="dc3"><path d="M415.8,568.5 L401.8,590.48 A16.6,16.6 0 1 0 429.8,590.48 Z"/></clipPath>
<clipPath id="dd4"><path d="M397.2,589.11 Q415.8,584.13 434.4,589.11 L434.4,618 L397.2,618 Z"/></clipPath>
<path d="M415.8,568.5 L401.8,590.48 A16.6,16.6 0 1 0 429.8,590.48 Z" fill="#fff" stroke="none"/>
<g clip-path="url(#dc3)"><path d="M331.4,569.4 L391.4,629.4 M391.4,569.4 L331.4,629.4 M338.2,569.4 L398.2,629.4 M398.2,569.4 L338.2,629.4 M345,569.4 L405,629.4 M405,569.4 L345,629.4 M351.8,569.4 L411.8,629.4 M411.8,569.4 L351.8,629.4 M358.6,569.4 L418.6,629.4 M418.6,569.4 L358.6,629.4 M365.4,569.4 L425.4,629.4 M425.4,569.4 L365.4,629.4 M372.2,569.4 L432.2,629.4 M432.2,569.4 L372.2,629.4 M379,569.4 L439,629.4 M439,569.4 L379,629.4 M385.8,569.4 L445.8,629.4 M445.8,569.4 L385.8,629.4 M392.6,569.4 L452.6,629.4 M452.6,569.4 L392.6,629.4 M399.4,569.4 L459.4,629.4 M459.4,569.4 L399.4,629.4 M406.2,569.4 L466.2,629.4 M466.2,569.4 L406.2,629.4 M413,569.4 L473,629.4 M473,569.4 L413,629.4 M419.8,569.4 L479.8,629.4 M479.8,569.4 L419.8,629.4 M426.6,569.4 L486.6,629.4 M486.6,569.4 L426.6,629.4 M433.4,569.4 L493.4,629.4 M493.4,569.4 L433.4,629.4 M440.2,569.4 L500.2,629.4 M500.2,569.4 L440.2,629.4" clip-path="url(#dd4)" stroke="#111" stroke-width="1.35" fill="none"/></g>
<path d="M414.9,569.5 L406.09,587.45 M415.44,569.5 L411.92,587.45 M416.16,569.5 L419.68,587.45 M416.7,569.5 L425.51,587.45" clip-path="url(#dc3)" stroke="#111" stroke-width="1.4" fill="none"/>
<path d="M415.8,568.5 L401.8,590.48 A16.6,16.6 0 1 0 429.8,590.48 Z" fill="none" stroke="#111" stroke-width="1.8" stroke-linejoin="round"/>
<path d="M473.5,537 L473.5,562" fill="none" stroke="#111" stroke-width="3.5" stroke-linecap="round" stroke-linejoin="round"/>
<ellipse cx="473" cy="565.5" rx="5" ry="4" fill="#fff" stroke="#111" stroke-width="1.6"/>
<clipPath id="dc5"><path d="M470.3,569.5 L457.3,593.43 A14.8,14.8 0 1 0 483.3,593.43 Z"/></clipPath>
<clipPath id="dd6"><path d="M453.5,591.32 Q470.3,586.88 487.1,591.32 L487.1,617.3 L453.5,617.3 Z"/></clipPath>
<path d="M470.3,569.5 L457.3,593.43 A14.8,14.8 0 1 0 483.3,593.43 Z" fill="#fff" stroke="none"/>
<g clip-path="url(#dc5)"><path d="M385.9,570.5 L445.9,630.5 M445.9,570.5 L385.9,630.5 M392.7,570.5 L452.7,630.5 M452.7,570.5 L392.7,630.5 M399.5,570.5 L459.5,630.5 M459.5,570.5 L399.5,630.5 M406.3,570.5 L466.3,630.5 M466.3,570.5 L406.3,630.5 M413.1,570.5 L473.1,630.5 M473.1,570.5 L413.1,630.5 M419.9,570.5 L479.9,630.5 M479.9,570.5 L419.9,630.5 M426.7,570.5 L486.7,630.5 M486.7,570.5 L426.7,630.5 M433.5,570.5 L493.5,630.5 M493.5,570.5 L433.5,630.5 M440.3,570.5 L500.3,630.5 M500.3,570.5 L440.3,630.5 M447.1,570.5 L507.1,630.5 M507.1,570.5 L447.1,630.5 M453.9,570.5 L513.9,630.5 M513.9,570.5 L453.9,630.5 M460.7,570.5 L520.7,630.5 M520.7,570.5 L460.7,630.5 M467.5,570.5 L527.5,630.5 M527.5,570.5 L467.5,630.5 M474.3,570.5 L534.3,630.5 M534.3,570.5 L474.3,630.5 M481.1,570.5 L541.1,630.5 M541.1,570.5 L481.1,630.5 M487.9,570.5 L547.9,630.5 M547.9,570.5 L487.9,630.5 M494.7,570.5 L554.7,630.5 M554.7,570.5 L494.7,630.5" clip-path="url(#dd6)" stroke="#111" stroke-width="1.35" fill="none"/></g>
<path d="M469.4,570.5 L461.64,589.84 M469.94,570.5 L466.84,589.84 M470.66,570.5 L473.76,589.84 M471.2,570.5 L478.96,589.84" clip-path="url(#dc5)" stroke="#111" stroke-width="1.4" fill="none"/>
<path d="M470.3,569.5 L457.3,593.43 A14.8,14.8 0 1 0 483.3,593.43 Z" fill="none" stroke="#111" stroke-width="1.8" stroke-linejoin="round"/>
<rect x="483.5" y="420.5" width="15.5" height="3" fill="#222"/>
<rect x="483.2" y="423.6" width="19.2" height="11" rx="5.2" fill="#fff" stroke="#111" stroke-width="1.9"/>
<path d="M487.6,435 L495.2,435 L494.6,443 L488.2,443 Z" fill="#fff" stroke="#111" stroke-width="1.8" stroke-linejoin="round"/>
<ellipse cx="491.4" cy="445.6" rx="4.2" ry="3" fill="#fff" stroke="#111" stroke-width="1.8"/>
<path d="M487,448.5 L496.5,448.5 L495.5,456 L487.5,456 Z M487.5,450 L496,455" fill="#fff" stroke="#111" stroke-width="1.7" stroke-linejoin="round"/>
<ellipse cx="491.5" cy="463.8" rx="4.7" ry="8.6" fill="#111"/><path d="M490.7,458.8 L493.3,462.6 L489.9,462.6 Z M490.7,468.8 L493.3,465.0 L489.9,465.0 Z" fill="#fff"/>
<ellipse cx="491.5" cy="477.3" rx="5.4" ry="4.2" fill="#fff" stroke="#111" stroke-width="2"/>
<ellipse cx="491.5" cy="490.8" rx="4.7" ry="8.6" fill="#111"/><path d="M490.7,485.8 L493.3,489.6 L489.9,489.6 Z M490.7,495.8 L493.3,492.0 L489.9,492.0 Z" fill="#fff"/>
<ellipse cx="491.5" cy="504.3" rx="5.4" ry="4.2" fill="#fff" stroke="#111" stroke-width="2"/>
<ellipse cx="491.5" cy="517.8" rx="4.7" ry="8.6" fill="#111"/><path d="M490.7,512.8 L493.3,516.5999999999999 L489.9,516.5999999999999 Z M490.7,522.8 L493.3,519.0 L489.9,519.0 Z" fill="#fff"/>
<ellipse cx="491.5" cy="531.3" rx="5.4" ry="4.2" fill="#fff" stroke="#111" stroke-width="2"/>
<ellipse cx="491.5" cy="544.8" rx="4.7" ry="8.6" fill="#111"/><path d="M490.7,539.8 L493.3,543.5999999999999 L489.9,543.5999999999999 Z M490.7,549.8 L493.3,546.0 L489.9,546.0 Z" fill="#fff"/>
<ellipse cx="491.5" cy="558.3" rx="5.4" ry="4.2" fill="#fff" stroke="#111" stroke-width="2"/>
<ellipse cx="491.5" cy="571.8" rx="4.7" ry="8.6" fill="#111"/><path d="M490.7,566.8 L493.3,570.5999999999999 L489.9,570.5999999999999 Z M490.7,576.8 L493.3,573.0 L489.9,573.0 Z" fill="#fff"/>
<ellipse cx="491.5" cy="585.3" rx="5.4" ry="4.2" fill="#fff" stroke="#111" stroke-width="2"/>
<ellipse cx="491.5" cy="598.8" rx="4.7" ry="8.6" fill="#111"/><path d="M490.7,593.8 L493.3,597.5999999999999 L489.9,597.5999999999999 Z M490.7,603.8 L493.3,600.0 L489.9,600.0 Z" fill="#fff"/>
<path d="M507,506 C503,509.17 499.5,511.83 495,515.5 C490.5,519.17 485,523.83 480,528" fill="none" stroke="#111" stroke-width="5" stroke-linecap="round" stroke-linejoin="round"/><path d="M507,506 C503,509.17 499.5,511.83 495,515.5 C490.5,519.17 485,523.83 480,528" fill="none" stroke="#fff" stroke-width="2.4" stroke-linecap="round" stroke-linejoin="round"/>
<ellipse cx="491.5" cy="612" rx="5.5" ry="4" fill="#fff" stroke="#111" stroke-width="1.6"/>
<clipPath id="bc7"><path d="M487.2,616.8 C484.4,617.5 482.2,619.9 480,621.6 C477.8,623.3 475.8,624.8 474,627 C472.2,629.2 470.5,631.8 469.2,634.8 C467.9,637.8 466.4,642 466.2,645 C466,648 466.9,650 468,652.8 C469.1,655.6 470.8,659.4 472.8,661.8 C474.8,664.2 477,665.87 480,667.2 C483,668.53 487.3,669.8 490.8,669.8 C494.3,669.8 498,668.53 501,667.2 C504,665.87 506.6,664 508.8,661.8 C511,659.6 512.9,656.7 514.2,654 C515.5,651.3 516.5,648.6 516.6,645.6 C516.7,642.6 515.9,639 514.8,636 C513.7,633 511.8,629.9 510,627.6 C508.2,625.3 506.2,623.9 504,622.2 C501.8,620.5 499.6,618.3 496.8,617.4 C494,616.5 490,616.1 487.2,616.8 Z"/></clipPath>
<path d="M487.2,616.8 C484.4,617.5 482.2,619.9 480,621.6 C477.8,623.3 475.8,624.8 474,627 C472.2,629.2 470.5,631.8 469.2,634.8 C467.9,637.8 466.4,642 466.2,645 C466,648 466.9,650 468,652.8 C469.1,655.6 470.8,659.4 472.8,661.8 C474.8,664.2 477,665.87 480,667.2 C483,668.53 487.3,669.8 490.8,669.8 C494.3,669.8 498,668.53 501,667.2 C504,665.87 506.6,664 508.8,661.8 C511,659.6 512.9,656.7 514.2,654 C515.5,651.3 516.5,648.6 516.6,645.6 C516.7,642.6 515.9,639 514.8,636 C513.7,633 511.8,629.9 510,627.6 C508.2,625.3 506.2,623.9 504,622.2 C501.8,620.5 499.6,618.3 496.8,617.4 C494,616.5 490,616.1 487.2,616.8 Z" fill="#fff" stroke="none"/>
<path d="M450.8,600.17 L530.8,600.17 M450.8,609.17 L530.8,609.17 M450.8,618.18 L530.8,618.18 M450.8,627.19 L530.8,627.19 M450.8,636.19 L530.8,636.19 M450.8,645.2 L530.8,645.2 M450.8,654.21 L530.8,654.21 M450.8,663.21 L530.8,663.21 M450.8,672.22 L530.8,672.22 M450.8,681.23 L530.8,681.23 M450.8,690.23 L530.8,690.23 M375.6,589.77 L439.6,700.63 M439.6,589.77 L375.6,700.63 M386,589.77 L450,700.63 M450,589.77 L386,700.63 M396.4,589.77 L460.4,700.63 M460.4,589.77 L396.4,700.63 M406.8,589.77 L470.8,700.63 M470.8,589.77 L406.8,700.63 M417.2,589.77 L481.2,700.63 M481.2,589.77 L417.2,700.63 M427.6,589.77 L491.6,700.63 M491.6,589.77 L427.6,700.63 M438,589.77 L502,700.63 M502,589.77 L438,700.63 M448.4,589.77 L512.4,700.63 M512.4,589.77 L448.4,700.63 M458.8,589.77 L522.8,700.63 M522.8,589.77 L458.8,700.63 M469.2,589.77 L533.2,700.63 M533.2,589.77 L469.2,700.63 M479.6,589.77 L543.6,700.63 M543.6,589.77 L479.6,700.63 M490,589.77 L554,700.63 M554,589.77 L490,700.63 M500.4,589.77 L564.4,700.63 M564.4,589.77 L500.4,700.63 M510.8,589.77 L574.8,700.63 M574.8,589.77 L510.8,700.63 M521.2,589.77 L585.2,700.63 M585.2,589.77 L521.2,700.63 M531.6,589.77 L595.6,700.63 M595.6,589.77 L531.6,700.63 M542,589.77 L606,700.63 M606,589.77 L542,700.63 M488.1,615 L481.8,627 M489.9,615 L487.8,627 M491.7,615 L493.8,627 M493.5,615 L499.8,627" clip-path="url(#bc7)" stroke="#111" stroke-width="1.45" fill="none"/>
<path d="M487.2,616.8 C484.4,617.5 482.2,619.9 480,621.6 C477.8,623.3 475.8,624.8 474,627 C472.2,629.2 470.5,631.8 469.2,634.8 C467.9,637.8 466.4,642 466.2,645 C466,648 466.9,650 468,652.8 C469.1,655.6 470.8,659.4 472.8,661.8 C474.8,664.2 477,665.87 480,667.2 C483,668.53 487.3,669.8 490.8,669.8 C494.3,669.8 498,668.53 501,667.2 C504,665.87 506.6,664 508.8,661.8 C511,659.6 512.9,656.7 514.2,654 C515.5,651.3 516.5,648.6 516.6,645.6 C516.7,642.6 515.9,639 514.8,636 C513.7,633 511.8,629.9 510,627.6 C508.2,625.3 506.2,623.9 504,622.2 C501.8,620.5 499.6,618.3 496.8,617.4 C494,616.5 490,616.1 487.2,616.8 Z" fill="none" stroke="#111" stroke-width="2.2" stroke-linejoin="round"/>
<circle cx="597.3" cy="551.5" r="8" fill="#fff" stroke="#111" stroke-width="1.6"/>
<path d="M597.3,551.5 L605.3,551.5 M597.3,551.5 L604.23,555.5 M597.3,551.5 L601.3,558.43 M597.3,551.5 L597.3,559.5 M597.3,551.5 L593.3,558.43 M597.3,551.5 L590.37,555.5 M597.3,551.5 L589.3,551.5 M597.3,551.5 L590.37,547.5 M597.3,551.5 L593.3,544.57 M597.3,551.5 L597.3,543.5 M597.3,551.5 L601.3,544.57 M597.3,551.5 L604.23,547.5" stroke="#111" stroke-width="0.9" fill="none"/>
<path d="M597,540 L597,543.5" fill="none" stroke="#111" stroke-width="3" stroke-linecap="round" stroke-linejoin="round"/>
<ellipse cx="597" cy="563.5" rx="4" ry="4" fill="#fff" stroke="#111" stroke-width="1.6"/>
<clipPath id="dc8"><path d="M597,569 L583.28,587.77 A17,17 0 1 0 610.72,587.77 Z"/></clipPath>
<clipPath id="dd9"><path d="M578,587.26 Q597,582.16 616,587.26 L616,616.8 L578,616.8 Z"/></clipPath>
<path d="M597,569 L583.28,587.77 A17,17 0 1 0 610.72,587.77 Z" fill="#fff" stroke="none"/>
<g clip-path="url(#dc8)"><path d="M512.6,567.8 L572.6,627.8 M572.6,567.8 L512.6,627.8 M519.4,567.8 L579.4,627.8 M579.4,567.8 L519.4,627.8 M526.2,567.8 L586.2,627.8 M586.2,567.8 L526.2,627.8 M533,567.8 L593,627.8 M593,567.8 L533,627.8 M539.8,567.8 L599.8,627.8 M599.8,567.8 L539.8,627.8 M546.6,567.8 L606.6,627.8 M606.6,567.8 L546.6,627.8 M553.4,567.8 L613.4,627.8 M613.4,567.8 L553.4,627.8 M560.2,567.8 L620.2,627.8 M620.2,567.8 L560.2,627.8 M567,567.8 L627,627.8 M627,567.8 L567,627.8 M573.8,567.8 L633.8,627.8 M633.8,567.8 L573.8,627.8 M580.6,567.8 L640.6,627.8 M640.6,567.8 L580.6,627.8 M587.4,567.8 L647.4,627.8 M647.4,567.8 L587.4,627.8 M594.2,567.8 L654.2,627.8 M654.2,567.8 L594.2,627.8 M601,567.8 L661,627.8 M661,567.8 L601,627.8 M607.8,567.8 L667.8,627.8 M667.8,567.8 L607.8,627.8 M614.6,567.8 L674.6,627.8 M674.6,567.8 L614.6,627.8 M621.4,567.8 L681.4,627.8 M681.4,567.8 L621.4,627.8" clip-path="url(#dd9)" stroke="#111" stroke-width="1.35" fill="none"/></g>
<path d="M596.1,570 L587.05,585.56 M596.64,570 L593.02,585.56 M597.36,570 L600.98,585.56 M597.9,570 L606.95,585.56" clip-path="url(#dc8)" stroke="#111" stroke-width="1.4" fill="none"/>
<path d="M597,569 L583.28,587.77 A17,17 0 1 0 610.72,587.77 Z" fill="none" stroke="#111" stroke-width="1.8" stroke-linejoin="round"/></svg>
</body></html>
